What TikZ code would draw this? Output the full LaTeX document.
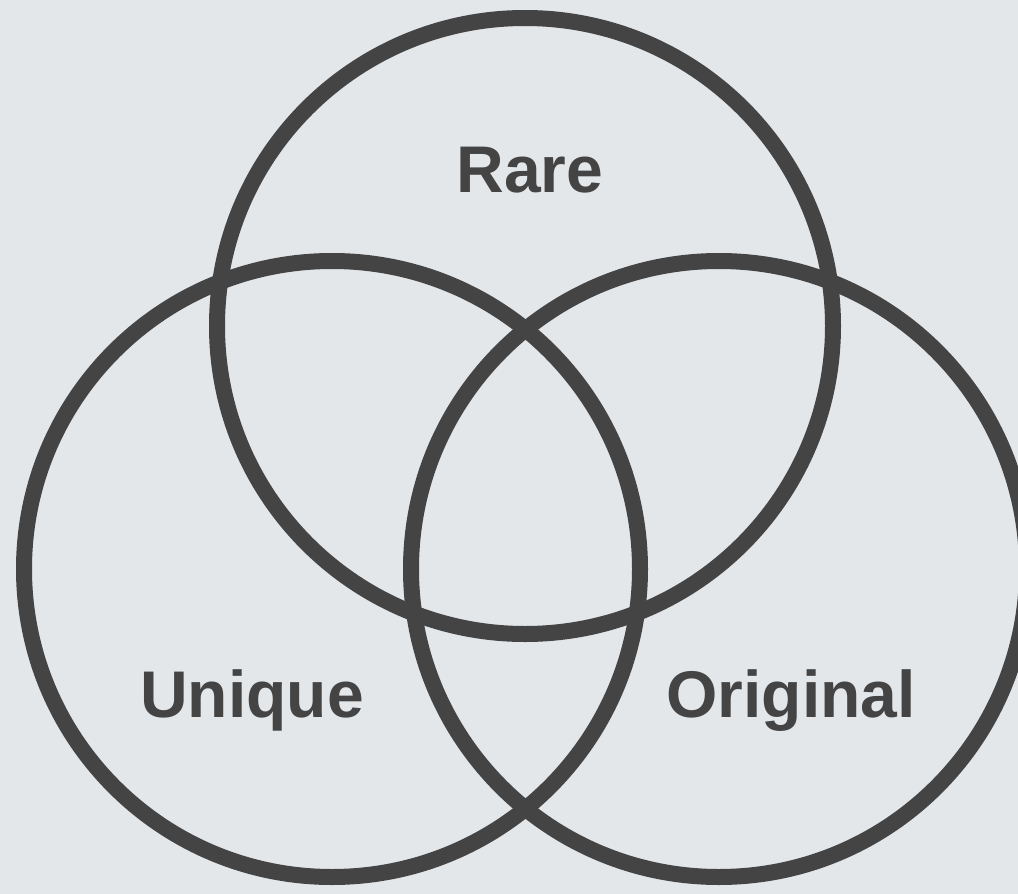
\documentclass[tikz,border=0pt]{standalone}
\usepackage{fontspec}
\setmainfont{Liberation Sans}
\definecolor{ink}{HTML}{444444}
\definecolor{paper}{HTML}{E4E7EA}
\tikzset{
  ring/.style={draw=ink,circle,line width=16pt,minimum size=616pt,inner sep=0pt},
  lbl/.style={font=\fontsize{66}{80}\selectfont\bfseries,text=ink,anchor=base,inner sep=0pt},
}
\begin{document}
\begin{tikzpicture}[x=1pt,y=-1pt]
\fill[paper] (0,0) rectangle (1018,894);
\useasboundingbox (0,0) rectangle (1018,894);
% three sets
\node[ring] (rare) at (525,326) {};
\node[ring] (unique) at (332,569) {};
\node[ring] (original) at (719,569) {};
% set names
\node[lbl] (rarelbl) at (530,192) {Rare};
\node[lbl] (uniquelbl) at (252,717) {Unique};
\node[lbl] (originallbl) at (791,717) {Original};
\end{tikzpicture}
\end{document}
